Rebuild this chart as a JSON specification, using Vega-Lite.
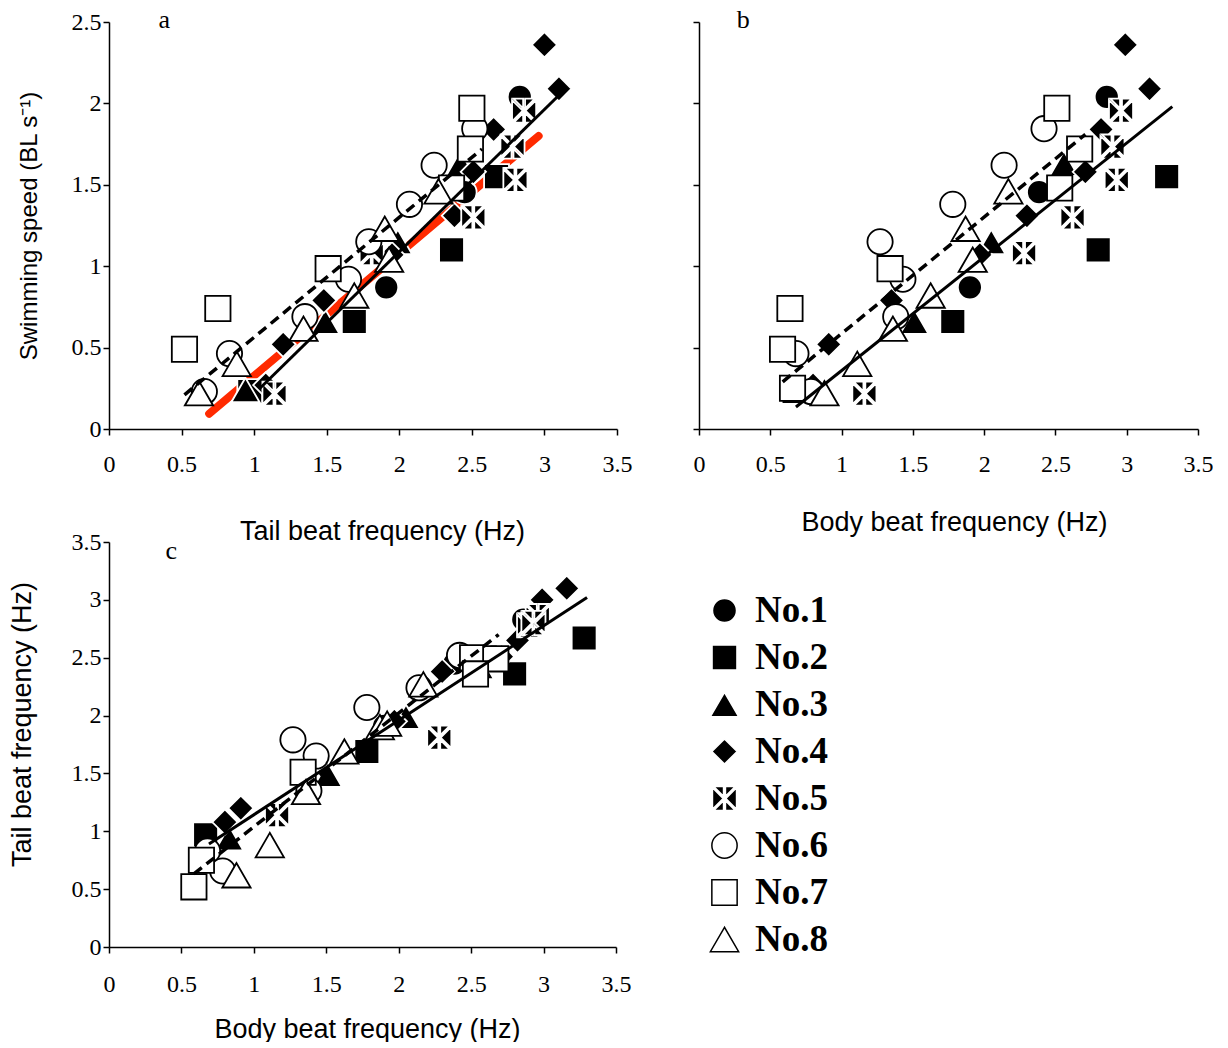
{
  "$schema": "https://vega.github.io/schema/vega-lite/v6.json",
  "padding": {"left": 8, "top": 7, "right": 0, "bottom": 0},
  "background": "white",
  "datasets": {
    "pts": [
      {"fish": "No.1", "speed": 2.04, "tbf": 2.83, "bbf": 2.86},
      {"fish": "No.1", "speed": 1.455, "tbf": 2.45, "bbf": 2.385},
      {"fish": "No.1", "speed": 0.87, "tbf": 1.91, "bbf": 1.9},
      {"fish": "No.2", "speed": 1.55, "tbf": 2.67, "bbf": 3.28},
      {"fish": "No.2", "speed": 1.1, "tbf": 2.36, "bbf": 2.8},
      {"fish": "No.2", "speed": 0.66, "tbf": 1.69, "bbf": 1.78},
      {"fish": "No.2", "speed": 0.23, "tbf": 0.97, "bbf": 0.667},
      {"fish": "No.3", "speed": 1.63, "tbf": 2.42, "bbf": 2.56},
      {"fish": "No.3", "speed": 1.15, "tbf": 1.99, "bbf": 2.05},
      {"fish": "No.3", "speed": 0.66, "tbf": 1.49, "bbf": 1.51},
      {"fish": "No.3", "speed": 0.24, "tbf": 0.94, "bbf": 0.83},
      {"fish": "No.4", "speed": 2.36, "tbf": 3.0, "bbf": 2.99},
      {"fish": "No.4", "speed": 2.09, "tbf": 3.1, "bbf": 3.16},
      {"fish": "No.4", "speed": 1.84, "tbf": 2.65, "bbf": 2.82},
      {"fish": "No.4", "speed": 1.58, "tbf": 2.51, "bbf": 2.71},
      {"fish": "No.4", "speed": 1.31, "tbf": 2.38, "bbf": 2.3},
      {"fish": "No.4", "speed": 1.07, "tbf": 1.95, "bbf": 1.97},
      {"fish": "No.4", "speed": 0.79, "tbf": 1.48, "bbf": 1.35},
      {"fish": "No.4", "speed": 0.52, "tbf": 1.2, "bbf": 0.91},
      {"fish": "No.4", "speed": 0.27, "tbf": 1.08, "bbf": 0.8},
      {"fish": "No.5", "speed": 1.955, "tbf": 2.86, "bbf": 2.96},
      {"fish": "No.5", "speed": 1.735, "tbf": 2.78, "bbf": 2.9},
      {"fish": "No.5", "speed": 1.53, "tbf": 2.8, "bbf": 2.93},
      {"fish": "No.5", "speed": 1.3, "tbf": 2.51, "bbf": 2.62},
      {"fish": "No.5", "speed": 1.08, "tbf": 1.81, "bbf": 2.28},
      {"fish": "No.5", "speed": 0.217, "tbf": 1.14, "bbf": 1.16},
      {"fish": "No.6", "speed": 1.845, "tbf": 2.52, "bbf": 2.42},
      {"fish": "No.6", "speed": 1.62, "tbf": 2.24, "bbf": 2.14},
      {"fish": "No.6", "speed": 1.38, "tbf": 2.07, "bbf": 1.78},
      {"fish": "No.6", "speed": 1.15, "tbf": 1.79, "bbf": 1.27},
      {"fish": "No.6", "speed": 0.92, "tbf": 1.65, "bbf": 1.43},
      {"fish": "No.6", "speed": 0.69, "tbf": 1.35, "bbf": 1.38},
      {"fish": "No.6", "speed": 0.463, "tbf": 0.83, "bbf": 0.68},
      {"fish": "No.6", "speed": 0.23, "tbf": 0.657, "bbf": 0.785},
      {"fish": "No.7", "speed": 1.97, "tbf": 2.5, "bbf": 2.51},
      {"fish": "No.7", "speed": 1.72, "tbf": 2.49, "bbf": 2.67},
      {"fish": "No.7", "speed": 1.48, "tbf": 2.36, "bbf": 2.53},
      {"fish": "No.7", "speed": 0.985, "tbf": 1.51, "bbf": 1.34},
      {"fish": "No.7", "speed": 0.74, "tbf": 0.75, "bbf": 0.638},
      {"fish": "No.7", "speed": 0.49, "tbf": 0.52, "bbf": 0.586},
      {"fish": "No.7", "speed": 0.25, "tbf": null, "bbf": 0.656},
      {"fish": "No.8", "speed": 1.46, "tbf": 2.27, "bbf": 2.17},
      {"fish": "No.8", "speed": 1.23, "tbf": 1.9, "bbf": 1.87},
      {"fish": "No.8", "speed": 1.04, "tbf": 1.93, "bbf": 1.92},
      {"fish": "No.8", "speed": 0.82, "tbf": 1.69, "bbf": 1.625},
      {"fish": "No.8", "speed": 0.616, "tbf": 1.34, "bbf": 1.36},
      {"fish": "No.8", "speed": 0.4, "tbf": 0.88, "bbf": 1.11},
      {"fish": "No.8", "speed": 0.22, "tbf": 0.62, "bbf": 0.88}
    ],
    "lines": [
      {"panel": "a", "style": "dashed", "x": 0.52, "y": 0.21},
      {"panel": "a", "style": "dashed", "x": 2.57, "y": 1.72},
      {"panel": "a", "style": "solid", "x": 1.04, "y": 0.25},
      {"panel": "a", "style": "solid", "x": 3.1, "y": 2.05},
      {"panel": "a", "style": "red", "x": 0.69, "y": 0.094},
      {"panel": "a", "style": "red", "x": 2.96, "y": 1.8},
      {"panel": "b", "style": "dashed", "x": 0.587, "y": 0.29},
      {"panel": "b", "style": "dashed", "x": 2.71, "y": 1.81},
      {"panel": "b", "style": "solid", "x": 0.68, "y": 0.135},
      {"panel": "b", "style": "solid", "x": 3.32, "y": 1.98},
      {"panel": "c", "style": "dashed", "x": 0.586, "y": 0.632},
      {"panel": "c", "style": "dashed", "x": 2.69, "y": 2.7},
      {"panel": "c", "style": "solid", "x": 0.69, "y": 0.89},
      {"panel": "c", "style": "solid", "x": 3.3, "y": 3.02}
    ],
    "letters": [
      {"panel": "a", "t": "a", "x": 0.38, "y": 2.51},
      {"panel": "b", "t": "b", "x": 0.31, "y": 2.51},
      {"panel": "c", "t": "c", "x": 0.43, "y": 3.42}
    ]
  },
  "config": {
    "view": {"stroke": null},
    "axis": {
      "grid": false,
      "domainColor": "black",
      "domainWidth": 1.5,
      "tickColor": "black",
      "tickWidth": 1.5,
      "tickSize": 6,
      "labelFont": "Liberation Serif",
      "labelFontSize": 24,
      "labelColor": "black",
      "labelFlush": false,
      "titleFont": "Liberation Sans",
      "titleFontSize": 27,
      "titleFontWeight": "normal",
      "titleColor": "black"
    },
    "axisX": {"labelAngle": 0, "labelPadding": 17},
    "axisY": {"labelPadding": 2},
    "legend": {
      "orient": "none",
      "legendX": 597,
      "legendY": 570,
      "labelFont": "Liberation Serif",
      "labelFontSize": 37,
      "labelFontWeight": "bold",
      "labelColor": "black",
      "rowPadding": 9,
      "labelOffset": 12
    }
  },
  "columns": 2,
  "bounds": "flush",
  "spacing": {"row": 113, "column": 82},
  "concat": [
    {
      "width": 508,
      "height": 407,
      "layer": [
        {
          "data": {"name": "lines"},
          "transform": [{"filter": "datum.panel === 'a' && datum.style === 'red'"}],
          "mark": {"type": "line", "color": "#FF2A00", "strokeWidth": 8, "strokeCap": "round"},
          "encoding": {
            "x": {"field": "x", "type": "quantitative", "title": "Tail beat frequency (Hz)", "scale": {"domain": [0, 3.5], "nice": false}, "axis": {"values": [0, 0.5, 1, 1.5, 2, 2.5, 3, 3.5], "format": "~g", "titlePadding": 42, "titleX": 273}},
            "y": {"field": "y", "type": "quantitative", "title": "Swimming speed (BL s⁻¹)", "scale": {"domain": [0, 2.5], "nice": false}, "axis": {"values": [0, 0.5, 1, 1.5, 2, 2.5], "format": "~g", "titleFontSize": 24, "titlePadding": 30}}
          }
        },
        {
          "data": {"name": "pts"},
          "mark": {"type": "point", "filled": true, "opacity": 1, "strokeWidth": 1.8},
          "encoding": {
            "x": {"field": "tbf", "type": "quantitative", "title": "Tail beat frequency (Hz)"},
            "y": {"field": "speed", "type": "quantitative", "title": "Swimming speed (BL s⁻¹)"},
            "shape": {"field": "fish", "type": "nominal", "scale": {"domain": ["No.1", "No.2", "No.3", "No.4", "No.5", "No.6", "No.7", "No.8"], "range": ["circle", "square", "triangle-up", "diamond", "M-0.887,-1L-0.08,-1L-0.08,-0.193ZM0.08,-1L0.887,-1L0.08,-0.193ZM-0.887,1L-0.08,1L-0.08,0.193ZM0.08,1L0.887,1L0.08,0.193ZM-1,-0.887L-0.113,0L-1,0.887ZM1,-0.887L0.113,0L1,0.887Z", "circle", "square", "triangle-up"]}, "legend": {"title": null}},
            "fill": {"field": "fish", "type": "nominal", "scale": {"domain": ["No.1", "No.2", "No.3", "No.4", "No.5", "No.6", "No.7", "No.8"], "range": ["black", "black", "black", "black", "black", "white", "white", "white"]}, "legend": {"title": null}},
            "stroke": {"field": "fish", "type": "nominal", "scale": {"domain": ["No.1", "No.2", "No.3", "No.4", "No.5", "No.6", "No.7", "No.8"], "range": ["white", "white", "white", "white", "white", "black", "black", "black"]}, "legend": {"title": null}},
            "size": {"field": "fish", "type": "nominal", "scale": {"type": "ordinal", "domain": ["No.1", "No.2", "No.3", "No.4", "No.5", "No.6", "No.7", "No.8"], "range": [580, 620, 800, 640, 580, 640, 640, 800]}, "legend": {"title": null}}
          }
        },
        {
          "data": {"name": "lines"},
          "transform": [{"filter": "datum.panel === 'a' && datum.style === 'dashed'"}],
          "mark": {"type": "line", "color": "black", "strokeWidth": 3.5, "strokeDash": [10, 6]},
          "encoding": {"x": {"field": "x", "type": "quantitative", "title": "Tail beat frequency (Hz)"}, "y": {"field": "y", "type": "quantitative", "title": "Swimming speed (BL s⁻¹)"}}
        },
        {
          "data": {"name": "lines"},
          "transform": [{"filter": "datum.panel === 'a' && datum.style === 'solid'"}],
          "mark": {"type": "line", "color": "black", "strokeWidth": 3},
          "encoding": {"x": {"field": "x", "type": "quantitative", "title": "Tail beat frequency (Hz)"}, "y": {"field": "y", "type": "quantitative", "title": "Swimming speed (BL s⁻¹)"}}
        },
        {
          "data": {"name": "letters"},
          "transform": [{"filter": "datum.panel === 'a'"}],
          "mark": {"type": "text", "font": "Liberation Serif", "fontSize": 26, "color": "black", "baseline": "middle"},
          "encoding": {"x": {"field": "x", "type": "quantitative", "title": "Tail beat frequency (Hz)"}, "y": {"field": "y", "type": "quantitative", "title": "Swimming speed (BL s⁻¹)"}, "text": {"field": "t"}}
        }
      ]
    },
    {
      "width": 499,
      "height": 407,
      "layer": [
        {
          "data": {"name": "pts"},
          "mark": {"type": "point", "filled": true, "opacity": 1, "strokeWidth": 1.8},
          "encoding": {
            "x": {"field": "bbf", "type": "quantitative", "title": "Body beat frequency (Hz)", "scale": {"domain": [0, 3.5], "nice": false}, "axis": {"values": [0, 0.5, 1, 1.5, 2, 2.5, 3, 3.5], "format": "~g", "titlePadding": 33, "titleX": 255}},
            "y": {"field": "speed", "type": "quantitative", "title": null, "scale": {"domain": [0, 2.5], "nice": false}, "axis": {"values": [0, 0.5, 1, 1.5, 2, 2.5], "labels": false}},
            "shape": {"field": "fish", "type": "nominal", "scale": {"domain": ["No.1", "No.2", "No.3", "No.4", "No.5", "No.6", "No.7", "No.8"], "range": ["circle", "square", "triangle-up", "diamond", "M-0.887,-1L-0.08,-1L-0.08,-0.193ZM0.08,-1L0.887,-1L0.08,-0.193ZM-0.887,1L-0.08,1L-0.08,0.193ZM0.08,1L0.887,1L0.08,0.193ZM-1,-0.887L-0.113,0L-1,0.887ZM1,-0.887L0.113,0L1,0.887Z", "circle", "square", "triangle-up"]}, "legend": {"title": null}},
            "fill": {"field": "fish", "type": "nominal", "scale": {"domain": ["No.1", "No.2", "No.3", "No.4", "No.5", "No.6", "No.7", "No.8"], "range": ["black", "black", "black", "black", "black", "white", "white", "white"]}, "legend": {"title": null}},
            "stroke": {"field": "fish", "type": "nominal", "scale": {"domain": ["No.1", "No.2", "No.3", "No.4", "No.5", "No.6", "No.7", "No.8"], "range": ["white", "white", "white", "white", "white", "black", "black", "black"]}, "legend": {"title": null}},
            "size": {"field": "fish", "type": "nominal", "scale": {"type": "ordinal", "domain": ["No.1", "No.2", "No.3", "No.4", "No.5", "No.6", "No.7", "No.8"], "range": [580, 620, 800, 640, 580, 640, 640, 800]}, "legend": {"title": null}}
          }
        },
        {
          "data": {"name": "lines"},
          "transform": [{"filter": "datum.panel === 'b' && datum.style === 'dashed'"}],
          "mark": {"type": "line", "color": "black", "strokeWidth": 3.5, "strokeDash": [10, 6]},
          "encoding": {"x": {"field": "x", "type": "quantitative", "title": "Body beat frequency (Hz)"}, "y": {"field": "y", "type": "quantitative", "title": null}}
        },
        {
          "data": {"name": "lines"},
          "transform": [{"filter": "datum.panel === 'b' && datum.style === 'solid'"}],
          "mark": {"type": "line", "color": "black", "strokeWidth": 3},
          "encoding": {"x": {"field": "x", "type": "quantitative", "title": "Body beat frequency (Hz)"}, "y": {"field": "y", "type": "quantitative", "title": null}}
        },
        {
          "data": {"name": "letters"},
          "transform": [{"filter": "datum.panel === 'b'"}],
          "mark": {"type": "text", "font": "Liberation Serif", "fontSize": 26, "color": "black", "baseline": "middle"},
          "encoding": {"x": {"field": "x", "type": "quantitative", "title": "Body beat frequency (Hz)"}, "y": {"field": "y", "type": "quantitative", "title": null}, "text": {"field": "t"}}
        }
      ]
    },
    {
      "width": 507,
      "height": 405,
      "layer": [
        {
          "data": {"name": "pts"},
          "mark": {"type": "point", "filled": true, "opacity": 1, "strokeWidth": 1.8},
          "encoding": {
            "x": {"field": "bbf", "type": "quantitative", "title": "Body beat frequency (Hz)", "scale": {"domain": [0, 3.5], "nice": false}, "axis": {"values": [0, 0.5, 1, 1.5, 2, 2.5, 3, 3.5], "format": "~g", "titlePadding": 20, "labelPadding": 19, "titleX": 258}},
            "y": {"field": "tbf", "type": "quantitative", "title": "Tail beat frequency (Hz)", "scale": {"domain": [0, 3.5], "nice": false}, "axis": {"values": [0, 0.5, 1, 1.5, 2, 2.5, 3, 3.5], "format": "~g", "titlePadding": 35, "titleY": 182}},
            "shape": {"field": "fish", "type": "nominal", "scale": {"domain": ["No.1", "No.2", "No.3", "No.4", "No.5", "No.6", "No.7", "No.8"], "range": ["circle", "square", "triangle-up", "diamond", "M-0.887,-1L-0.08,-1L-0.08,-0.193ZM0.08,-1L0.887,-1L0.08,-0.193ZM-0.887,1L-0.08,1L-0.08,0.193ZM0.08,1L0.887,1L0.08,0.193ZM-1,-0.887L-0.113,0L-1,0.887ZM1,-0.887L0.113,0L1,0.887Z", "circle", "square", "triangle-up"]}, "legend": {"title": null}},
            "fill": {"field": "fish", "type": "nominal", "scale": {"domain": ["No.1", "No.2", "No.3", "No.4", "No.5", "No.6", "No.7", "No.8"], "range": ["black", "black", "black", "black", "black", "white", "white", "white"]}, "legend": {"title": null}},
            "stroke": {"field": "fish", "type": "nominal", "scale": {"domain": ["No.1", "No.2", "No.3", "No.4", "No.5", "No.6", "No.7", "No.8"], "range": ["white", "white", "white", "white", "white", "black", "black", "black"]}, "legend": {"title": null}},
            "size": {"field": "fish", "type": "nominal", "scale": {"type": "ordinal", "domain": ["No.1", "No.2", "No.3", "No.4", "No.5", "No.6", "No.7", "No.8"], "range": [580, 620, 800, 640, 580, 640, 640, 800]}, "legend": {"title": null}}
          }
        },
        {
          "data": {"name": "lines"},
          "transform": [{"filter": "datum.panel === 'c' && datum.style === 'dashed'"}],
          "mark": {"type": "line", "color": "black", "strokeWidth": 3.5, "strokeDash": [10, 6]},
          "encoding": {"x": {"field": "x", "type": "quantitative", "title": "Body beat frequency (Hz)"}, "y": {"field": "y", "type": "quantitative", "title": "Tail beat frequency (Hz)"}}
        },
        {
          "data": {"name": "lines"},
          "transform": [{"filter": "datum.panel === 'c' && datum.style === 'solid'"}],
          "mark": {"type": "line", "color": "black", "strokeWidth": 3},
          "encoding": {"x": {"field": "x", "type": "quantitative", "title": "Body beat frequency (Hz)"}, "y": {"field": "y", "type": "quantitative", "title": "Tail beat frequency (Hz)"}}
        },
        {
          "data": {"name": "letters"},
          "transform": [{"filter": "datum.panel === 'c'"}],
          "mark": {"type": "text", "font": "Liberation Serif", "fontSize": 26, "color": "black", "baseline": "middle"},
          "encoding": {"x": {"field": "x", "type": "quantitative", "title": "Body beat frequency (Hz)"}, "y": {"field": "y", "type": "quantitative", "title": "Tail beat frequency (Hz)"}, "text": {"field": "t"}}
        }
      ]
    }
  ]
}
